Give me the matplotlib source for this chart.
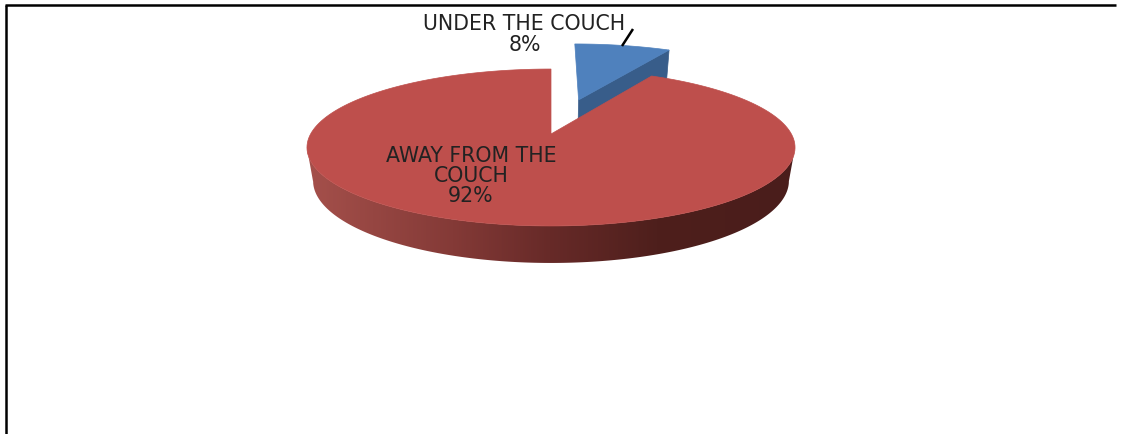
#!/usr/bin/python

import numpy as np
import matplotlib
matplotlib.use('Agg')
import matplotlib.pyplot as plt
from matplotlib.colors import LinearSegmentedColormap
from matplotlib.patches import Polygon

# Pie values
labels = ['UNDER THE COUCH', 'AWAY FROM THE\nCOUCH']
values = [8, 92]
explode = [0.5, 0.0]
colors = ['#4f81bd', '#be4f4c']
wall_color = '#385d8a'

# Camera used for the tilted disc, output in pixels
CX = 551.0
RX = 240.4
TILT = 0.172
BY = 134.0
AY = -53.1
DZ = 0.025
HZ = -37.2

def project(x, s, z=0.0):
    w = 1 + TILT * s + DZ * z * -1
    return CX + RX * x / w, (AY * s + BY + HZ * z) / w

def wedge(start, stop, off, n=200):
    # angles run clockwise from 12 o'clock
    t = np.radians(np.linspace(start, stop, n))
    mid = np.radians((start + stop) / 2)
    ox, os_ = off * np.sin(mid), off * np.cos(mid)
    x = np.r_[ox, ox + np.sin(t)]
    s = np.r_[os_, os_ + np.cos(t)]
    return x, s

fig = plt.figure(figsize=(11.21, 4.34), dpi=100)
ax = fig.add_axes([0, 0, 1, 1])
ax.axis('off')

angles = np.cumsum([0] + values) * 3.6

# Pulled out slice: cut face first, then its top
bx, bs = wedge(angles[0], angles[1], explode[0])
face_x = np.array([bx[0], bx[-1]])
face_s = np.array([bs[0], bs[-1]])
px0, py0 = project(face_x, face_s)
px1, py1 = project(face_x, face_s, -1.0)
ax.fill(np.r_[px0, px1[::-1]], np.r_[py0, py1[::-1]], color=wall_color, lw=0.5)
tx, ty = project(bx, bs)
ax.fill(tx, ty, color=colors[0], lw=0.5)

# Outer wall of the large slice, a left to right gradient clipped to the rim
shade = LinearSegmentedColormap.from_list('wall', [
    (0.0, '#a5504b'), (0.3, '#843a37'), (0.5, '#672a28'),
    (0.72, '#4e1f1c'), (1.0, '#4a1d1b')])
t = np.radians(np.linspace(angles[1], angles[2], 500))
x, s = np.sin(t), np.cos(t)
front = s < -0.15
ux, uy = project(x[front], s[front])
lx, ly = project(x[front], s[front], -1.0)
order = np.argsort(ux)
rim = Polygon(np.c_[np.r_[ux[order], lx[order][::-1]], np.r_[uy[order], ly[order][::-1]]],
              transform=ax.transData, fc='none', ec='none')
ax.add_patch(rim)
img = ax.imshow(np.linspace(0, 1, 488)[None, :], extent=[306, 794, 270, 130], cmap=shade,
                aspect='auto')
img.set_clip_path(rim)

rx_, rs_ = wedge(angles[1], angles[2], explode[1])
tx, ty = project(rx_, rs_)
ax.fill(tx, ty, color=colors[1], lw=0.5)

# Leader line for the small slice
ax.plot([622, 633], [46, 29], color='black', lw=1.8, solid_capstyle='butt')

font = dict(family='DejaVu Sans', fontsize=14.8, color='#222222', ha='center', va='center',
            linespacing=1.03)
ax.text(524.5, 34.5, '%s\n%d%%' % (labels[0], values[0]), **font)
ax.text(471, 176, '%s\n%d%%' % (labels[1], values[1]), **font)

# Frame along the top and left edges
ax.plot([6, 6], [434, 5], color='black', lw=1.8, solid_capstyle='butt')
ax.plot([5, 1116], [5, 5], color='black', lw=1.8, solid_capstyle='butt')

ax.set_xlim(0, 1121)
ax.set_ylim(434, 0)

fig.savefig('out.png', dpi=100)
